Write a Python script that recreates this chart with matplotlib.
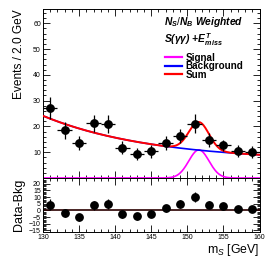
import numpy as np
import matplotlib
matplotlib.use("Agg")
import matplotlib.pyplot as plt
from matplotlib.ticker import MultipleLocator

plt.rcParams['font.family'] = ['Liberation Sans', 'DejaVu Sans']
plt.rcParams['mathtext.fontset'] = 'custom'
plt.rcParams['mathtext.rm'] = 'Liberation Sans'
plt.rcParams['mathtext.it'] = 'Liberation Sans:italic:bold'
plt.rcParams['mathtext.bf'] = 'Liberation Sans:bold'
plt.rcParams['mathtext.sf'] = 'Liberation Sans:italic'

# ---- data ----
mass = [131, 133, 135, 137, 139, 141, 143, 145, 147, 149, 151, 153, 155, 157, 159]
events = [27.1, 18.5, 13.5, 21.2, 20.8, 11.8, 9.3, 10.4, 13.5, 16.2, 21.0, 14.7, 12.6, 10.4, 10.0]
events_err = [4.3, 3.2, 2.6, 3.4, 3.5, 2.6, 2.4, 2.5, 2.6, 2.7, 3.7, 2.7, 2.3, 2.3, 2.3]
residual = [4.4, -2.0, -5.2, 3.9, 4.9, -3.0, -4.4, -2.5, 1.5, 4.9, 10.1, 4.4, 3.0, 1.2, 1.0]
bin_half_width = 1.0

# fitted model parameters (estimated from the drawn curves)
bkg_const = 6.56
bkg_amp = 17.54
bkg_slope = 0.0658
sig_amp = 10.9
sig_mean = 151.6
sig_sigma = 1.4

x_ticks = [130, 135, 140, 145, 150, 155, 160]
top_yticks = [10, 20, 30, 40, 50, 60]
bot_yticks = [-15, -10, -5, 0, 5, 10, 15, 20]

xs = np.linspace(130, 160, 400)
bkg = bkg_const + bkg_amp * np.exp(-bkg_slope * (xs - 130))
sig = sig_amp * np.exp(-0.5 * ((xs - sig_mean) / sig_sigma) ** 2)
tot = bkg + sig

W, H = 274, 266
fig = plt.figure(figsize=(W / 100, H / 100), dpi=100)

L, R = 43, 259.5
top_t, mid, bot_b = 9.3, 178.0, 231.7
ax = fig.add_axes([L / W, 1 - mid / H, (R - L) / W, (mid - top_t) / H])
axr = fig.add_axes([L / W, 1 - bot_b / H, (R - L) / W, (bot_b - mid) / H])

# top panel
ax.plot(xs, sig, color='#ff00ff', lw=1.2, label='Signal', zorder=2)
ax.plot(xs, bkg, color='#0000ff', lw=1.2, label='Background', zorder=3)
ax.plot(xs, tot, color='#ff0000', lw=1.4, label='Sum', zorder=4)
ax.errorbar(mass, events, yerr=events_err, xerr=bin_half_width, fmt='o',
            color='black', ms=5.3, elinewidth=0.9, capsize=0, zorder=5)
ax.set_xlim(130, 160)
ax.set_ylim(0, 65.4)
ax.set_yticks(top_yticks)
ax.xaxis.set_major_locator(MultipleLocator(5))
ax.xaxis.set_minor_locator(MultipleLocator(1))
ax.yaxis.set_minor_locator(MultipleLocator(2))
ax.tick_params(axis='x', labelbottom=False)
ax.set_ylabel('Events / 2.0 GeV', loc='top', fontsize=8.6, labelpad=6)

leg = ax.legend(loc='upper left', bbox_to_anchor=(165 / W, 1 - 52.5 / H),
                bbox_transform=fig.transFigure, frameon=False,
                prop={'weight': 'bold', 'size': 7.1}, handlelength=1.75,
                handletextpad=0.3, labelspacing=-0.15, borderpad=0,
                borderaxespad=0)
for ln in leg.get_lines():
    ln.set_linewidth(1.6)

fig.text(164 / W, 1 - 22 / H, r'$N_S/N_B$ Weighted', fontsize=7.4,
         fontweight='bold', fontstyle='italic', va='center', ha='left')
fig.text(164 / W, 1 - 40 / H, r'S(γγ) +$E_{miss}^{T}$', fontsize=7.4,
         fontweight='bold', fontstyle='italic', va='center', ha='left')

# bottom panel
axr.axhline(0, color='#2a0000', lw=1.2, zorder=2)
axr.errorbar(mass, residual, yerr=events_err, fmt='o', color='black',
             ms=5.3, elinewidth=0.9, capsize=0, zorder=5)
axr.set_xlim(130, 160)
axr.set_ylim(-15.9, 24.3)
axr.set_xticks(x_ticks)
axr.set_yticks(bot_yticks)
axr.xaxis.set_minor_locator(MultipleLocator(1))
axr.yaxis.set_minor_locator(MultipleLocator(1))
axr.set_ylabel('Data-Bkg', fontsize=9, labelpad=3)
axr.set_xlabel(r'$\mathrm{m}_\mathsf{S}$ [GeV]', fontsize=8.8, loc='right',
               labelpad=1)

for a in (ax, axr):
    a.tick_params(which='both', direction='in', top=True, right=True,
                  labelsize=5, pad=1.5, width=0.6)
    a.tick_params(which='major', length=5)
    a.tick_params(which='minor', length=2.5)
    for s in a.spines.values():
        s.set_linewidth(0.7)

fig.savefig('out.png', dpi=100)
